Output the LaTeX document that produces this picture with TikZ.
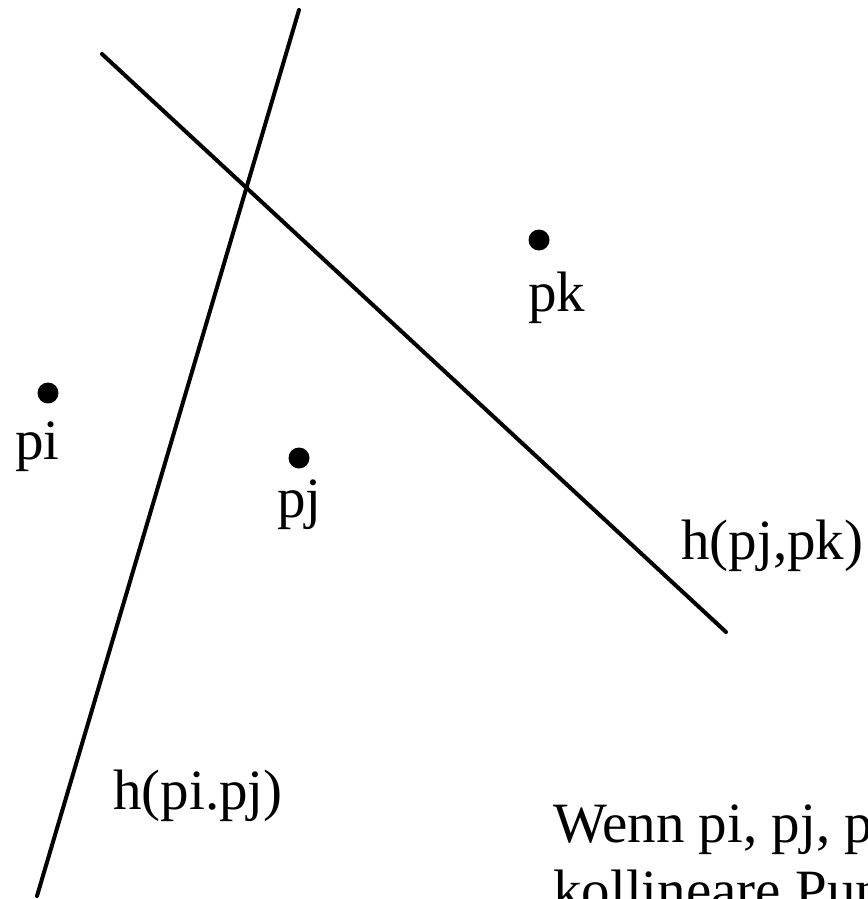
\documentclass[tikz,border=0pt]{standalone}
\usepackage{fontspec}
\setmainfont{Liberation Serif}
\begin{document}
\begin{tikzpicture}[x=1pt,y=-1pt,
  hline/.style={line width=4pt,line cap=round},
  dot/.style={circle,fill=black,inner sep=0pt,minimum size=21pt},
  lbl/.style={anchor=base west,inner sep=0pt,font=\fontsize{57}{67}\selectfont}]
\useasboundingbox (0,0) rectangle (867,899);
\clip (0,0) rectangle (867,899);
% half-planes boundaries
\coordinate (a1) at (299,10);
\coordinate (a2) at (37,896);
\coordinate (b1) at (102,54);
\coordinate (b2) at (726,632);
\draw[hline] (a1) -- (a2);
\draw[hline] (b1) -- (b2);
% points
\node[dot] (pi) at (48,393) {};
\node[dot] (pj) at (299,458) {};
\node[dot] (pk) at (539,240) {};
% labels
\node[lbl] (lpi) at (15,459) {pi};
\node[lbl] (lpj) at (277,517) {pj};
\node[lbl] (lpk) at (528,311) {pk};
\node[lbl] (hjk) at (681,559) {h(pj,pk)};
\node[lbl] (hij) at (113,809) {h(pi.pj)};
\node[lbl] (t1) at (553,842) {Wenn pi, pj, pk};
\node[lbl] (t2) at (553,909) {kollineare Punkte};
\end{tikzpicture}
\end{document}
